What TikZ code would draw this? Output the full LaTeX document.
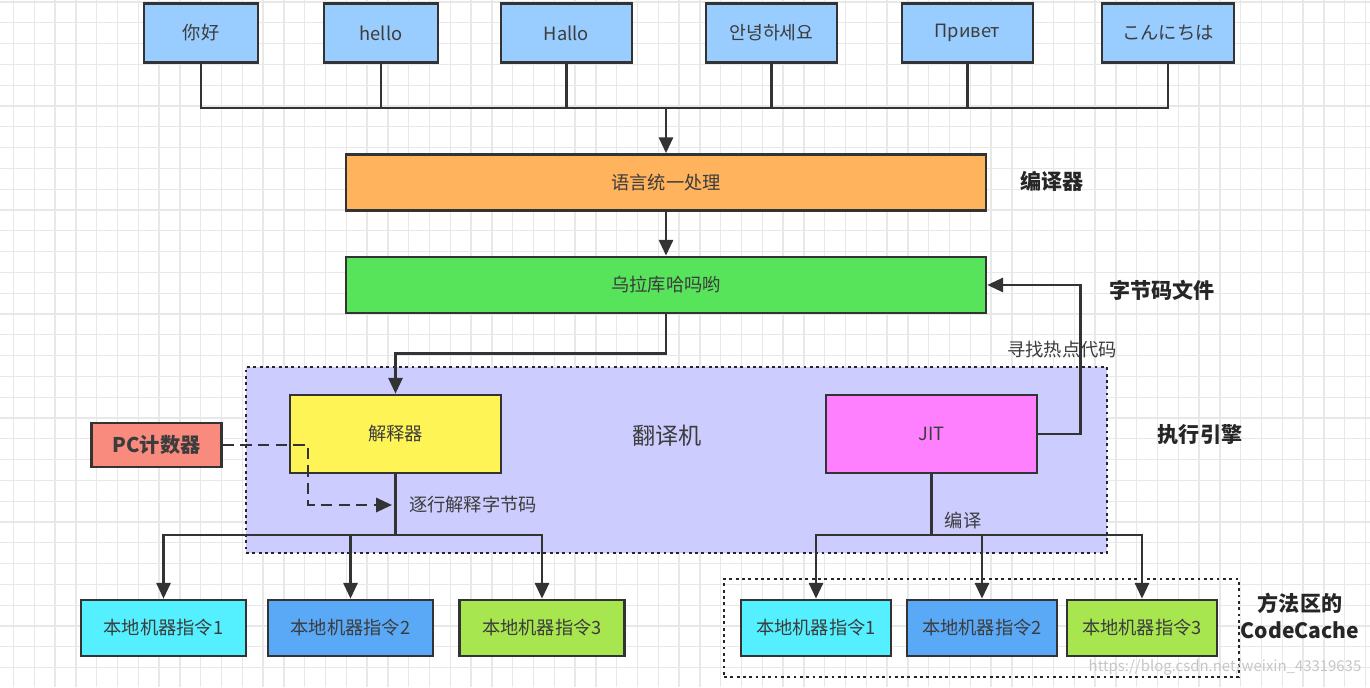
\documentclass[tikz,border=0pt]{standalone}
\usepackage{fontspec}
\setmainfont{Noto Sans CJK SC}
\usepackage{tikz}
\usetikzlibrary{shapes,arrows,arrows.meta,positioning}
\definecolor{linegray}{HTML}{333333}
\definecolor{textgray}{HTML}{3C3C3C}
\definecolor{gridgray}{HTML}{E8E8E8}
\definecolor{langblue}{HTML}{99CCFF}
\definecolor{unifyorange}{HTML}{FFB35C}
\definecolor{codegreen}{HTML}{57E35A}
\definecolor{enginelilac}{HTML}{CCCCFF}
\definecolor{interpyellow}{HTML}{FFF455}
\definecolor{jitpink}{HTML}{FF80FF}
\definecolor{pcsalmon}{HTML}{F98A7E}
\definecolor{nativecyan}{HTML}{55F0FF}
\definecolor{nativeblue}{HTML}{5AA9F7}
\definecolor{nativelime}{HTML}{A8E64F}
\tikzstyle{block} = [rectangle, draw = linegray, line width = 1.5pt, text = textgray, inner sep = 0pt]
\tikzstyle{langblock} = [block, fill = langblue, minimum width = 2.28cm, minimum height = 1.18cm]
\tikzstyle{stageblock} = [block, minimum width = 12.8cm, minimum height = 1.12cm]
\tikzstyle{engineblock} = [block, minimum width = 4.22cm, minimum height = 1.56cm]
\tikzstyle{nativeblock} = [block, minimum width = 3.3cm, minimum height = 1.12cm]
\tikzstyle{region} = [rectangle, draw = black!85, line width = 1.6pt, dash pattern = on 1.6pt off 2pt, inner sep = 0pt]
\tikzstyle{line} = [draw = linegray, line width = 1.5pt]
\tikzstyle{arrow} = [line, -{Triangle[length = 9pt, width = 8pt]}]
\tikzstyle{tag} = [text = textgray]
\tikzstyle{sidetag} = [text = black!85, font = \fontsize{12}{15.3}\selectfont\bfseries]

\begin{document}
\begin{tikzpicture}[x = 0.02cm, y = -0.02cm]
\tikzstyle{every node}=[font=\fontsize{10.4}{12}\selectfont];
% page and grid
\fill[white] (0,0) rectangle (1370,687);
\useasboundingbox (0,0) rectangle (1370,687);
\foreach \gx in {0,...,65} \draw[gridgray, line width = 0.7pt] (13.5+20.8*\gx,0) -- (13.5+20.8*\gx,687);
\foreach \gy in {0,...,33} \draw[gridgray, line width = 0.7pt] (0,2+20.8*\gy) -- (1370,2+20.8*\gy);

% regions
\node [region, fill = enginelilac, minimum width = 17.22cm, minimum height = 3.72cm] (engine) at (676.5,460) {};
\node [region, minimum width = 10.3cm, minimum height = 1.96cm] (codecache) at (981.5,628) {};

% source languages
\node [langblock] (nihao) at (201,33) {你好};
\node [langblock] (hello) at (381,33) {hello};
\node [langblock, minimum width = 2.62cm] (hallo) at (566.5,33) {Hallo};
\node [langblock, minimum width = 2.62cm] (annyeong) at (771.5,33) {안녕하세요};
\node [langblock, minimum width = 2.62cm] (privet) at (967.5,33) {Привет};
\node [langblock, minimum width = 2.64cm] (konnichiwa) at (1168,33) {こんにちは};

% compiler and byte code
\node [stageblock, fill = unifyorange] (unify) at (666,182.5) {语言统一处理};
\node [stageblock, fill = codegreen, below of = unify, node distance = 2.05cm] (bytecode) {乌拉库哈吗哟};

% execution engine
\node [engineblock, fill = interpyellow] (interp) at (395.5,434) {解释器};
\node [engineblock, fill = jitpink] (jit) at (931.5,434) {JIT};
\node [tag, font = \fontsize{13.2}{16}\selectfont] (translator) at (667,436) {翻译机};
\node [block, fill = pcsalmon, minimum width = 2.6cm, minimum height = 0.88cm, font = \fontsize{11.5}{14}\selectfont\bfseries] (pc) at (156.5,445) {PC计数器};

% native instructions
\node [nativeblock, fill = nativecyan] (lnative1) at (163.5,628) {本地机器指令1};
\node [nativeblock, fill = nativeblue] (lnative2) at (350.5,628) {本地机器指令2};
\node [nativeblock, fill = nativelime] (lnative3) at (542,628) {本地机器指令3};
\node [nativeblock, fill = nativecyan, minimum width = 3cm] (rnative1) at (816,628) {本地机器指令1};
\node [nativeblock, fill = nativeblue, minimum width = 3cm] (rnative2) at (982,628) {本地机器指令2};
\node [nativeblock, fill = nativelime, minimum width = 3cm] (rnative3) at (1142,628) {本地机器指令3};

% side tags
\node [sidetag] (compilertag) at (1052,181) {编译器};
\node [sidetag] (bytecodetag) at (1162,290) {字节码文件};
\node [sidetag] (enginetag) at (1200,435) {执行引擎};
\node [sidetag, align = center] (cachetag) at (1300,616) {方法区的\\CodeCache};
\node [tag] (hottag) at (1062,350) {寻找热点代码};
\node [tag] (linetag) at (473,505) {逐行解释字节码};
\node [tag] (compiletag) at (963,521) {编译};
\node [text = gray!45, font = \fontsize{8.5}{10}\selectfont] (watermark) at (1225,667) {https://blog.csdn.net/weixin\_43319635};

% connectors
\coordinate (bus) at (666,108);
\foreach \n in {nihao,hello,hallo,annyeong,privet,konnichiwa}
  \draw[line] (\n.south) |- (bus);
\draw[arrow] (bus) -- (unify.north);
\draw[arrow] (unify) -- (bytecode);
\draw[arrow] (bytecode.south) -- ++(0,39) -| (interp.north);
\draw[arrow] (jit.east) -- ++(42,0) |- (bytecode.east);

\coordinate (ifork) at (interp.south |- 0,535);
\draw[line] (interp.south) -- (ifork);
\foreach \n in {lnative1,lnative2,lnative3}
  \draw[arrow] (ifork) -| (\n.north);
\coordinate (jfork) at (jit.south |- 0,535);
\draw[line] (jit.south) -- (jfork);
\foreach \n in {rnative1,rnative2,rnative3}
  \draw[arrow] (jfork) -| (\n.north);

\coordinate (pcturn) at (308,505);
\draw[arrow, dash pattern = on 6.5pt off 3.5pt] (pc.east) -| (pcturn) -- ([xshift = -2pt]pcturn -| interp.south);
\end{tikzpicture}
\end{document}
